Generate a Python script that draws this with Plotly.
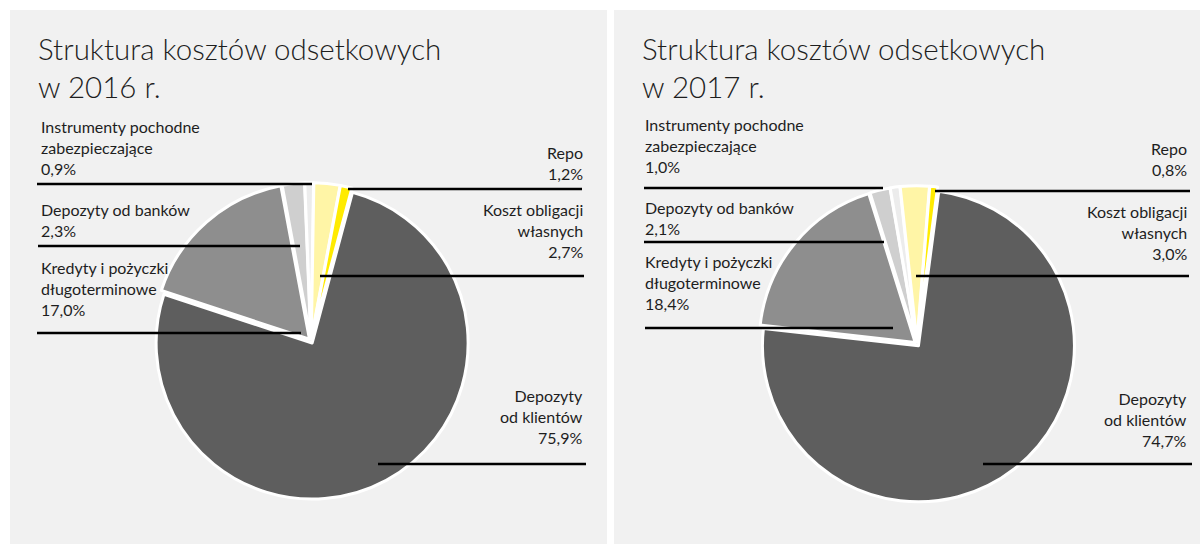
import plotly.graph_objects as go

W, H = 1200, 544

# Categories in slice order (clockwise)
categories = [
    "Depozyty od klientów",
    "Kredyty i pożyczki długoterminowe",
    "Depozyty od banków",
    "Instrumenty pochodne zabezpieczające",
    "Koszt obligacji własnych",
    "Repo",
]
# Label text with line breaks as printed next to the pies
label_text = [
    "Depozyty<br>od klientów",
    "Kredyty i pożyczki<br>długoterminowe",
    "Depozyty od banków",
    "Instrumenty pochodne<br>zabezpieczające",
    "Koszt obligacji<br>własnych",
    "Repo",
]
values_2016 = [75.9, 17.0, 2.3, 0.9, 2.7, 1.2]
values_2017 = [74.7, 18.4, 2.1, 1.0, 3.0, 0.8]
years = ["2016", "2017"]

slice_colors = ["#5e5e5e", "#8e8e8e", "#cfcfcf", "#ececec", "#fff5a6", "#ffeb00"]
panel_bg = "#f1f1f1"
text_color = "#1e1e1e"
FONT = "Lato, 'Open Sans', sans-serif"


def px(x):
    return x / W


def py(y):
    return 1 - y / H


def fmt(v):
    return f"{v:.1f}".replace(".", ",") + "%"


fig = go.Figure()
shapes = []
annotations = []

# Panel geometry: left edge, pie centre, start angle, values
panels = [
    dict(x0=10, cx=311, cy=341, rot=15.0, vals=values_2016, year=years[0]),
    dict(x0=614, cx=917, cy=344, rot=7.5, vals=values_2017, year=years[1]),
]
R = 156
PULL = 0.015

# label placement per category index: (side, block centre y, line y, line x0, line x1)
layout_2016 = {
    3: ("left", 147, 184, 37, 312),
    2: ("left", 220, 246, 38, 300),
    1: ("left", 288, 333, 37, 301),
    5: ("right", 163, 189, 348, 582),
    4: ("right", 230, 276, 320, 584),
    0: ("right", 416, 464, 378, 586),
}
layout_2017 = {
    3: ("left", 145, 188, 644, 883),
    2: ("left", 218, 242, 644, 884),
    1: ("left", 282, 328, 645, 893),
    5: ("right", 159, 191, 935, 1190),
    4: ("right", 232, 276, 916, 1189),
    0: ("right", 419, 464, 983, 1192),
}
label_layouts = [layout_2016, layout_2017]

for p, lay in zip(panels, label_layouts):
    # panel background
    shapes.append(dict(type="rect", xref="paper", yref="paper",
                       x0=px(p["x0"]), x1=px(p["x0"] + 597), y0=py(H + 5), y1=py(10),
                       fillcolor=panel_bg, line=dict(width=0), layer="below"))

    half = R * (1 + PULL)
    fig.add_trace(go.Pie(
        labels=categories,
        values=p["vals"],
        sort=False,
        direction="clockwise",
        rotation=p["rot"],
        pull=[PULL] * len(categories),
        marker=dict(colors=slice_colors, line=dict(color="white", width=3)),
        textinfo="none",
        hoverinfo="label+percent",
        showlegend=False,
        domain=dict(x=[px(p["cx"] - half), px(p["cx"] + half)],
                    y=[py(p["cy"] + half), py(p["cy"] - half)]),
    ))

    # title
    annotations.append(dict(
        text=f"Struktura kosztów odsetkowych<br>w {p['year']} r.",
        xref="paper", yref="paper", x=px(p["x0"] + 26), y=py(67),
        xanchor="left", yanchor="middle", align="left", showarrow=False,
        font=dict(family=FONT, size=29.5, color=text_color, weight=300),
    ))

    for idx, (side, ty, ly, lx0, lx1) in lay.items():
        txt = f"{label_text[idx]}<br>{fmt(p['vals'][idx])}"
        if side == "left":
            ax, xa = p["x0"] + 29, "left"
        else:
            ax, xa = p["x0"] + 575, "right"
        annotations.append(dict(
            text=txt, xref="paper", yref="paper", x=px(ax), y=py(ty),
            xanchor=xa, yanchor="middle", align=side, showarrow=False,
            font=dict(family=FONT, size=16, color=text_color),
        ))
        shapes.append(dict(type="line", xref="paper", yref="paper",
                           x0=px(lx0), x1=px(lx1), y0=py(ly), y1=py(ly),
                           line=dict(color="black", width=2.5), layer="above"))

fig.update_layout(
    width=W, height=H,
    margin=dict(l=0, r=0, t=0, b=0),
    paper_bgcolor="white",
    plot_bgcolor="white",
    shapes=shapes,
    annotations=annotations,
    font=dict(family=FONT),
)

fig.write_html("out.html")
